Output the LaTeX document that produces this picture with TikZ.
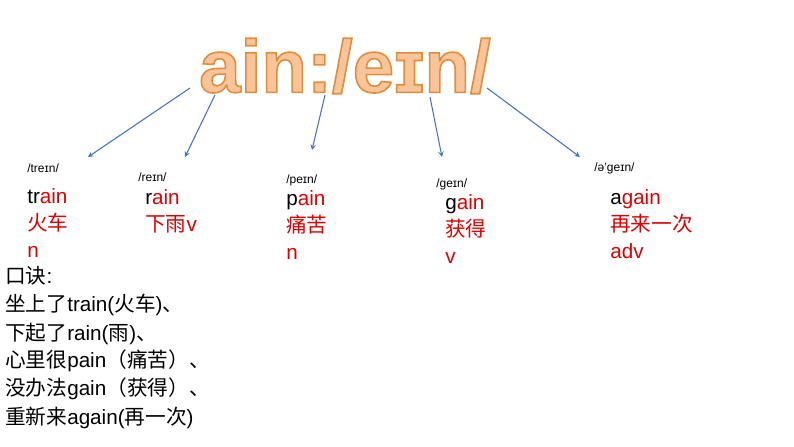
\documentclass[tikz,border=0pt]{standalone}
\usepackage{fontspec}
\setmainfont{Liberation Sans}
\newfontfamily\cjk{Noto Sans CJK SC}
\usetikzlibrary{positioning}
\definecolor{titlecolor}{HTML}{F8C49A}
\definecolor{arrowcolor}{HTML}{4472C4}
\definecolor{wordred}{HTML}{E00000}
\newcommand{\zh}[1]{{\cjk #1}}
\newcommand{\outlined}[1]{\special{pdf:literal direct 0.89 0.55 0.23 RG 1.2 w 2 Tr}#1\special{pdf:literal direct 0 Tr}}
\begin{document}
\begin{tikzpicture}[x=0.75pt,y=-0.75pt]
    \tikzset{%
        phon/.style={anchor=west, inner sep=0pt, font=\fontsize{9pt}{10pt}\selectfont},
        word/.style={anchor=west, inner sep=0pt, align=left, text=wordred,
                font=\fontsize{15.5pt}{20.5pt}\selectfont},
        rhyme/.style={anchor=west, inner sep=0pt, font=\fontsize{15.5pt}{15pt}\selectfont},
        pointer/.style={->, arrowcolor, thick, >=stealth}
    }
    \useasboundingbox (0,0) rectangle (794,447);

    % title
    \node (title) at (345,66) [text=titlecolor, inner sep=0pt,
        font=\fontsize{56pt}{56pt}\selectfont\bfseries] {\outlined{ain:/eɪn/}};

    % phonetics
    \node (ptrain) at (27,168) [phon] {/treɪn/};
    \node (prain) at (138,177) [phon] {/reɪn/};
    \node (ppain) at (286,180) [phon] {/peɪn/};
    \node (pgain) at (436,184) [phon] {/geɪn/};
    \node (pagain) at (594,168) [phon] {/ə'geɪn/};

    % words
    \node (wtrain) at (27,223) [word] {\textcolor{black}{tr}ain\\\zh{火车}\\n};
    \node (wrain) at (145,211) [word] {\textcolor{black}{r}ain\\\zh{下雨}v};
    \node (wpain) at (286,225) [word] {\textcolor{black}{p}ain\\\zh{痛苦}\\n};
    \node (wgain) at (445,229) [word] {\textcolor{black}{g}ain\\\zh{获得}\\v};
    \node (wagain) at (610,224) [word] {\textcolor{black}{a}gain\\\zh{再来一次}\\adv};

    % arrows
    \coordinate (s1) at (190,88);
    \coordinate (s2) at (215,95);
    \coordinate (s3) at (325,95);
    \coordinate (s4) at (430,97);
    \coordinate (s5) at (487,88);
    \draw [pointer] (s1) -- (88,157);
    \draw [pointer] (s2) -- (185,157);
    \draw [pointer] (s3) -- (312,150);
    \draw [pointer] (s4) -- (442,157);
    \draw [pointer] (s5) -- (580,157);

    % mnemonic
    \node (k0) at (5,276) [rhyme] {\zh{口诀}:};
    \node (k1) at (5,305) [rhyme] {\zh{坐上了}train(\zh{火车})\zh{、}};
    \node (k2) at (5,334) [rhyme] {\zh{下起了}rain(\zh{雨})\zh{、}};
    \node (k3) at (5,361) [rhyme] {\zh{心里很}pain\zh{（痛苦）、}};
    \node (k4) at (5,389) [rhyme] {\zh{没办法}gain\zh{（获得）、}};
    \node (k5) at (5,418) [rhyme] {\zh{重新来}again(\zh{再一次})};
\end{tikzpicture}
\end{document}
